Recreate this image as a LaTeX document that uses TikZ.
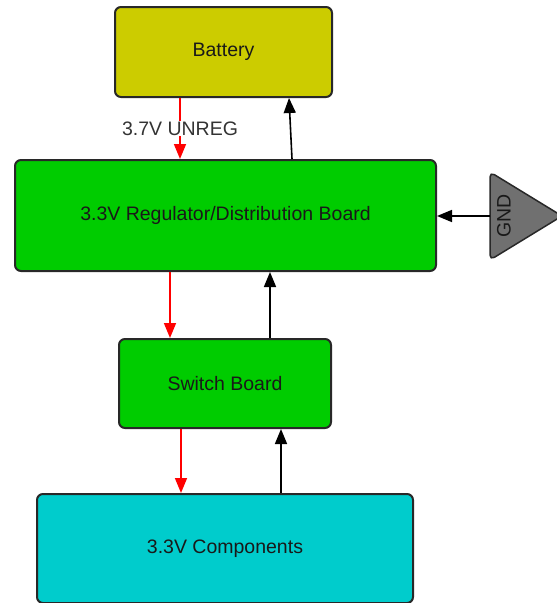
\documentclass[tikz,border=0pt]{standalone}
\usepackage{fontspec}
\setmainfont{Liberation Sans}
\usetikzlibrary{arrows.meta}
\definecolor{battfill}{RGB}{204,204,0}
\definecolor{boardfill}{RGB}{0,204,0}
\definecolor{compfill}{RGB}{0,204,204}
\definecolor{gndfill}{RGB}{112,112,112}
\definecolor{edgecol}{RGB}{40,40,40}
\definecolor{labelcol}{RGB}{51,51,51}
\begin{document}
\begin{tikzpicture}[x=1pt,y=-1pt,
    block/.style={draw=edgecol,line width=2pt,rounded corners=6pt,text=black!90,font=\fontsize{19.5}{23}\selectfont},
    pwr/.style={draw=red,fill=red,line width=1.6pt,-{Triangle[length=15pt,width=12pt]}},
    sig/.style={draw=black,fill=black,line width=1.6pt,-{Triangle[length=15pt,width=12pt]}}]
    \useasboundingbox (0,0) rectangle (557,603);
    \clip (0,0) rectangle (557,603);
    % blocks
    \node[block,fill=battfill,minimum width=217pt,minimum height=90pt] (battery) at (223.5,52) {Battery};
    \node[block,fill=boardfill,minimum width=421pt,minimum height=111pt] (reg) at (225.5,215.5) {3.3V Regulator/Distribution Board};
    \node[block,fill=boardfill,minimum width=212pt,minimum height=89pt] (sw) at (225,383.5) {Switch Board};
    \node[block,fill=compfill,minimum width=376pt,minimum height=109pt] (comp) at (225,548.5) {3.3V Components};
    % ground
    \draw[draw=edgecol,line width=1.5pt,fill=gndfill,rounded corners=5pt] (490,172) -- (562,216) -- (490,260) -- cycle;
    \node[rotate=90,text=black!90,font=\fontsize{19.5}{23}\selectfont] (gnd) at (504,216) {GND};
    \coordinate (gndin) at (490,216);
    % connectors
    \draw[pwr] ([xshift=-43.5pt]battery.south) -- node[fill=white,text=labelcol,font=\fontsize{19.5}{23}\selectfont,inner sep=1pt] {3.7V UNREG} ([xshift=-45.5pt]reg.north);
    \draw[sig] ([xshift=66.5pt]reg.north) -- ([xshift=65.5pt]battery.south);
    \draw[sig] (gndin) -- (gndin -| reg.east);
    \draw[pwr] ([xshift=-55.5pt]reg.south) -- ([xshift=-55pt]sw.north);
    \draw[sig] ([xshift=45pt]sw.north) -- ([xshift=44.5pt]reg.south);
    \draw[pwr] ([xshift=-44pt]sw.south) -- ([xshift=-44pt]comp.north);
    \draw[sig] ([xshift=56pt]comp.north) -- ([xshift=56pt]sw.south);
\end{tikzpicture}
\end{document}
